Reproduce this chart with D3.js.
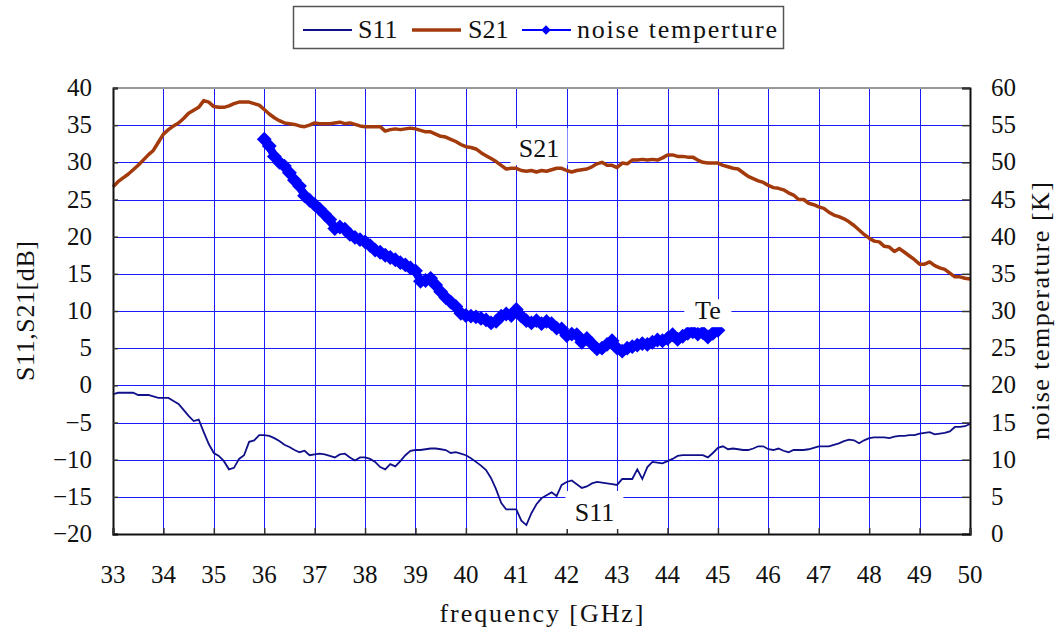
<!DOCTYPE html>
<html lang="en">
<head>
    <meta charset="UTF-8">
    <title>S11, S21 and noise temperature</title>
    <script src="https://d3js.org/d3.v7.min.js"></script>
    <style>
        body { margin: 0; background: #fff; }
        svg { display: block; }
        svg text { font-family: "Liberation Serif", "DejaVu Serif", "Times New Roman", serif; }
        .grid line { stroke: #1a1aff; stroke-width: 1; shape-rendering: crispEdges; }
        .tick-label { font-size: 25px; fill: #111; }
        .title { font-size: 26px; fill: #111; }
    </style>
</head>
<body>
<svg width="1058" height="630"></svg>
<script>
    // sample grid: 0.1 GHz steps
    const s21Freq = d3.range(330, 501).map(d => d / 10);
    const s11Freq = d3.range(330, 501).map(d => d / 10);
    const teFreq = d3.range(360, 451).map(d => d / 10);

    // S21 [dB], 33.0 .. 50.0 GHz
    const s21 = [
        26.7, 27.4, 27.9, 28.4, 29.0, 29.6, 30.3, 31.0, 31.6, 32.7,
        33.8, 34.4, 34.9, 35.3, 35.9, 36.6, 37.0, 37.4, 38.3, 38.1,
        37.5, 37.4, 37.4, 37.6, 37.9, 38.1, 38.1, 38.1, 37.9, 37.7,
        37.1, 36.5, 36.0, 35.6, 35.3, 35.2, 35.1, 34.9, 34.8, 35.0,
        35.3, 35.2, 35.2, 35.2, 35.3, 35.4, 35.2, 35.3, 35.1, 34.9,
        34.8, 34.8, 34.8, 34.8, 34.2, 34.4, 34.5, 34.4, 34.5, 34.6,
        34.5, 34.3, 34.1, 34.1, 33.8, 33.5, 33.4, 33.1, 32.8, 32.4,
        32.1, 32.0, 31.8, 31.3, 30.9, 30.5, 30.1, 29.6, 29.1, 29.2,
        29.2, 28.9, 28.8, 28.9, 28.7, 28.9, 28.8, 29.0, 29.2, 29.2,
        28.9, 28.7, 28.9, 29.0, 29.1, 29.4, 29.8, 30.0, 29.6, 29.6,
        29.3, 29.9, 29.8, 30.3, 30.3, 30.4, 30.3, 30.4, 30.3, 30.6,
        31.0, 31.0, 30.8, 30.8, 30.7, 30.7, 30.3, 30.0, 29.9, 29.9,
        29.9, 29.6, 29.4, 29.2, 29.1, 28.6, 28.1, 27.8, 27.5, 27.3,
        26.9, 26.6, 26.5, 26.3, 25.9, 25.6, 25.0, 25.0, 24.5, 24.3,
        24.0, 23.8, 23.3, 22.9, 22.7, 22.4, 22.0, 21.5, 20.9, 20.3,
        19.8, 19.4, 19.3, 18.7, 18.6, 18.0, 18.4, 17.9, 17.4, 16.9,
        16.3, 16.3, 16.6, 16.1, 15.8, 15.6, 15.1, 14.6, 14.6, 14.4,
        14.3
    ];

    // S11 [dB], 33.0 .. 50.0 GHz
    const s11 = [
        -1.2, -1.0, -1.0, -1.0, -1.0, -1.3, -1.3, -1.3, -1.5, -1.7,
        -1.7, -1.7, -2.1, -2.5, -3.3, -4.1, -4.8, -4.6, -6.3, -7.9,
        -9.1, -9.5, -10.2, -11.3, -11.1, -9.9, -9.4, -7.6, -7.4, -6.7,
        -6.7, -6.8, -7.1, -7.5, -8.0, -8.3, -8.7, -9.0, -8.8, -9.4,
        -9.3, -9.2, -9.3, -9.5, -9.7, -9.3, -9.2, -9.7, -10.1, -9.7,
        -9.7, -9.9, -10.3, -11.0, -11.3, -10.6, -10.9, -10.2, -9.4, -8.8,
        -8.7, -8.7, -8.6, -8.5, -8.5, -8.6, -8.7, -9.1, -9.0, -9.2,
        -9.4, -9.8, -10.3, -10.8, -11.4, -12.5, -14.0, -15.8, -16.7, -16.7,
        -16.7, -18.2, -18.8, -17.2, -16.0, -15.2, -14.8, -14.4, -14.9, -13.4,
        -13.0, -12.8, -13.3, -13.8, -13.6, -13.2, -13.0, -13.1, -13.2, -13.3,
        -13.4, -12.6, -12.6, -12.6, -11.3, -12.6, -11.0, -10.3, -10.4, -10.5,
        -10.2, -9.9, -9.5, -9.4, -9.4, -9.4, -9.4, -9.4, -9.7, -9.1,
        -8.4, -8.2, -8.6, -8.5, -8.6, -8.7, -8.7, -8.5, -8.2, -8.2,
        -8.6, -8.7, -8.5, -8.8, -9.0, -8.7, -8.7, -8.7, -8.6, -8.4,
        -8.2, -8.2, -8.2, -8.0, -7.8, -7.5, -7.3, -7.4, -7.8, -7.4,
        -7.1, -7.0, -7.0, -7.0, -7.1, -6.9, -6.8, -6.8, -6.7, -6.7,
        -6.5, -6.4, -6.3, -6.6, -6.5, -6.4, -6.2, -5.6, -5.6, -5.5,
        -5.2
    ];

    // noise temperature [K], 36.0 .. 45.0 GHz
    const te = [
        53.1, 52.2, 50.8, 50.0, 49.5, 48.6, 47.6, 46.8, 45.5, 44.9,
        44.3, 43.7, 43.0, 42.3, 41.1, 41.3, 41.0, 40.3, 39.9, 39.6,
        39.3, 38.8, 38.2, 37.9, 37.5, 37.2, 36.9, 36.5, 36.2, 35.8,
        35.4, 34.0, 34.1, 34.4, 33.5, 32.6, 31.8, 31.2, 30.6, 29.7,
        29.4, 29.3, 29.2, 29.0, 28.8, 28.4, 28.6, 29.3, 29.6, 29.4,
        30.2, 29.3, 28.7, 28.4, 28.7, 28.3, 28.6, 28.3, 27.7, 27.6,
        26.7, 26.9, 26.8, 25.8, 26.3, 25.6, 24.9, 25.0, 25.5, 26.0,
        25.0, 24.6, 25.0, 25.2, 25.4, 25.6, 25.5, 25.8, 26.1, 26.0,
        26.3, 26.8, 26.2, 26.6, 27.0, 27.2, 26.9, 27.1, 26.5, 27.0,
        27.4
    ];

    const xTicks = d3.range(33, 51);
    const yTicks = d3.range(-20, 41, 5);
    const y2Ticks = d3.range(0, 61, 5);
    const legendNames = ["S11", "S21", "noise temperture"];

    const colS11 = "#10108a", colS21 = "#a33a0c", colTe = "#0000ff";

    const svg = d3.select("svg");
    const x = d3.scaleLinear().domain([33, 50]).range([113, 970]);
    const y = d3.scaleLinear().domain([-20, 40]).range([534, 88]);
    const y2 = d3.scaleLinear().domain([0, 60]).range([534, 88]);

    // grid
    const grid = svg.append("g").attr("class", "grid");
    grid.selectAll(".v").data(xTicks.slice(1, -1)).enter().append("line")
        .attr("x1", d => Math.round(x(d)) + 0.5).attr("x2", d => Math.round(x(d)) + 0.5)
        .attr("y1", 88).attr("y2", 534);
    grid.selectAll(".h").data(yTicks.slice(1, -1)).enter().append("line")
        .attr("x1", 113).attr("x2", 970)
        .attr("y1", d => Math.round(y(d)) + 0.5).attr("y2", d => Math.round(y(d)) + 0.5);

    // top of frame
    svg.append("line").attr("x1", 113).attr("x2", 970).attr("y1", 88).attr("y2", 88)
        .attr("stroke", "#999").attr("stroke-width", 2);

    // curves
    const s21Line = d3.line().x((d, i) => x(s21Freq[i])).y(d => y(d));
    const s11Line = d3.line().x((d, i) => x(s11Freq[i])).y(d => y(d));
    const teLine = d3.line().x((d, i) => x(teFreq[i])).y(d => y2(d));

    svg.append("path").attr("d", s11Line(s11))
        .attr("fill", "none").attr("stroke", colS11).attr("stroke-width", 1.8);
    svg.append("path").attr("d", s21Line(s21))
        .attr("fill", "none").attr("stroke", colS21).attr("stroke-width", 3.5)
        .attr("stroke-linejoin", "round");
    svg.append("path").attr("d", teLine(te))
        .attr("fill", "none").attr("stroke", colTe).attr("stroke-width", 8)
        .attr("stroke-linejoin", "round");

    const diamond = d3.symbol().type(d3.symbolSquare).size(110);
    svg.append("g").selectAll("path").data(te).enter().append("path")
        .attr("d", diamond)
        .attr("transform", (d, i) => `translate(${x(teFreq[i])},${y2(d)}) rotate(45)`)
        .attr("fill", colTe);

    // axes
    const axL = svg.append("g").attr("transform", "translate(113,0)")
        .call(d3.axisLeft(y).tickValues(yTicks).tickSize(-5).tickFormat(""));
    const axR = svg.append("g").attr("transform", "translate(970,0)")
        .call(d3.axisRight(y2).tickValues(y2Ticks).tickSize(-8).tickFormat(""));
    const axB = svg.append("g").attr("transform", "translate(0,534)")
        .call(d3.axisBottom(x).tickValues(xTicks).tickSize(-6).tickFormat(""));
    [axL, axR, axB].forEach(a => {
        a.select(".domain").attr("stroke", "#111").attr("stroke-width", 2);
        a.selectAll(".tick line").attr("stroke", "#333").attr("stroke-width", 1.5);
    });

    // tick labels
    svg.append("g").selectAll("text").data(yTicks).enter().append("text")
        .attr("class", "tick-label").attr("x", 92).attr("y", d => y(d) + 8)
        .attr("text-anchor", "end").text(d => d < 0 ? "\u2212" + (-d) : d);
    svg.append("g").selectAll("text").data(y2Ticks).enter().append("text")
        .attr("class", "tick-label").attr("x", 991).attr("y", d => y2(d) + 8)
        .text(d => d);
    svg.append("g").selectAll("text").data(xTicks).enter().append("text")
        .attr("class", "tick-label").attr("x", d => x(d)).attr("y", 583)
        .attr("text-anchor", "middle").text(d => d);

    // axis titles
    svg.append("text").attr("class", "title").attr("text-anchor", "middle")
        .attr("x", x(41.5)).attr("y", 622).attr("textLength", 204).text("frequency [GHz]");
    svg.append("text").attr("class", "title").attr("text-anchor", "middle")
        .attr("transform", `translate(34,${y(10)}) rotate(-90)`)
        .attr("textLength", 140).text("S11,S21[dB]");
    svg.append("text").attr("class", "title").attr("text-anchor", "middle")
        .attr("transform", `translate(1049,${y(10)}) rotate(-90)`)
        .attr("textLength", 258).text("noise temperature [K]");

    // in-plot labels with white boxes
    const labels = [
        { text: "S21", f: 41.45, v: 30.7, w: 57, h: 37 },
        { text: "S11", f: 42.55, v: -18.25, w: 58, h: 38 },
        { text: "Te", f: 44.8, v: 8.9, w: 47, h: 28 }
    ];
    const lg = svg.append("g").selectAll("g").data(labels).enter().append("g")
        .attr("transform", d => `translate(${x(d.f)},${y(d.v)})`);
    lg.append("rect").attr("x", d => -d.w / 2).attr("y", d => -d.h + 8)
        .attr("width", d => d.w).attr("height", d => d.h).attr("fill", "#fff");
    lg.append("text").attr("class", "title").attr("text-anchor", "middle")
        .text(d => d.text);

    // legend
    const leg = svg.append("g");
    leg.append("rect").attr("x", 293.5).attr("y", 6.5).attr("width", 490).attr("height", 42)
        .attr("fill", "#fff").attr("stroke", "#555").attr("stroke-width", 1.5);
    const legItems = [
        { name: legendNames[0], x0: 303, tx: 358, col: colS11, w: 1.8, marker: false },
        { name: legendNames[1], x0: 412, tx: 468, col: colS21, w: 3.5, marker: false },
        { name: legendNames[2], x0: 522, tx: 577, col: colTe, w: 2, marker: true }
    ];
    legItems.forEach(it => {
        leg.append("line").attr("x1", it.x0).attr("x2", it.x0 + 49).attr("y1", 30).attr("y2", 30)
            .attr("stroke", it.col).attr("stroke-width", it.w);
        if (it.marker) {
            leg.append("path").attr("d", d3.symbol().type(d3.symbolSquare).size(45))
                .attr("transform", `translate(${it.x0 + 24},30) rotate(45)`).attr("fill", it.col);
        }
        const t = leg.append("text").attr("class", "title").attr("x", it.tx).attr("y", 38).text(it.name);
        if (it.marker) t.attr("textLength", 200);
    });
</script>
</body>
</html>
